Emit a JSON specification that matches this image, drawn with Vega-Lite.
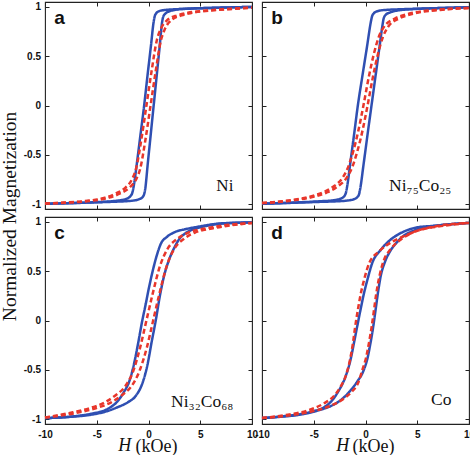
{
"$schema": "https://vega.github.io/schema/vega-lite/v6.json",
"background": "white",
"padding": {"left": 0, "top": 0, "right": 0, "bottom": 0},
"title": {"text": "Normalized Magnetization", "orient": "left", "anchor": "middle", "font": "Liberation Serif", "fontSize": 19.5, "fontWeight": "normal", "color": "#111", "offset": 2, "dx": 12},
"config": {
  "view": {"stroke": "#222", "strokeWidth": 1.1},
  "axis": {"domain": false, "grid": false, "ticks": true, "tickSize": -4, "tickColor": "#222", "tickWidth": 1, "labelFont": "Liberation Sans", "labelFontSize": 10, "labelFontWeight": "bold", "labelColor": "#111", "labelFlush": false, "labelOverlap": false, "labelPadding": 8.5, "titleFont": "Liberation Serif", "titleFontSize": 18, "titleFontWeight": "normal", "titleColor": "#111"}
},
"datasets": {
"labels": [
{"p":"a","letter":"a","name":"Ni","hvar":"H"},
{"p":"b","letter":"b","name":"Ni₇₅Co₂₅","hvar":"H"},
{"p":"c","letter":"c","name":"Ni₃₂Co₆₈","hvar":"H"},
{"p":"d","letter":"d","name":"Co","hvar":"H"}
],
"curves": [
{"p":"a","s":"blue","b":"d","h":10,"m":1.0},{"p":"a","s":"blue","b":"d","h":6,"m":0.99},{"p":"a","s":"blue","b":"d","h":3,"m":0.978},{"p":"a","s":"blue","b":"d","h":2,"m":0.973},{"p":"a","s":"blue","b":"d","h":1.5,"m":0.968},{"p":"a","s":"blue","b":"d","h":1.0,"m":0.956},{"p":"a","s":"blue","b":"d","h":0.75,"m":0.936},{"p":"a","s":"blue","b":"d","h":0.6,"m":0.905},{"p":"a","s":"blue","b":"d","h":0.5,"m":0.85},{"p":"a","s":"blue","b":"d","h":0.23,"m":0.6},{"p":"a","s":"blue","b":"d","h":-0.1,"m":0.3},{"p":"a","s":"blue","b":"d","h":-0.42,"m":0},{"p":"a","s":"blue","b":"d","h":-0.78,"m":-0.3},{"p":"a","s":"blue","b":"d","h":-1.14,"m":-0.6},{"p":"a","s":"blue","b":"d","h":-1.4,"m":-0.8},{"p":"a","s":"blue","b":"d","h":-1.55,"m":-0.88},{"p":"a","s":"blue","b":"d","h":-1.75,"m":-0.92},{"p":"a","s":"blue","b":"d","h":-2.1,"m":-0.945},{"p":"a","s":"blue","b":"d","h":-2.5,"m":-0.958},{"p":"a","s":"blue","b":"d","h":-3,"m":-0.965},{"p":"a","s":"blue","b":"d","h":-6,"m":-0.985},{"p":"a","s":"blue","b":"d","h":-10,"m":-0.997},
{"p":"a","s":"blue","b":"u","h":-10,"m":-0.997},{"p":"a","s":"blue","b":"u","h":-6,"m":-0.985},{"p":"a","s":"blue","b":"u","h":-3,"m":-0.975},{"p":"a","s":"blue","b":"u","h":-2,"m":-0.97},{"p":"a","s":"blue","b":"u","h":-1.5,"m":-0.965},{"p":"a","s":"blue","b":"u","h":-0.9,"m":-0.95},{"p":"a","s":"blue","b":"u","h":-0.6,"m":-0.932},{"p":"a","s":"blue","b":"u","h":-0.42,"m":-0.9},{"p":"a","s":"blue","b":"u","h":-0.32,"m":-0.85},{"p":"a","s":"blue","b":"u","h":-0.08,"m":-0.6},{"p":"a","s":"blue","b":"u","h":0.21,"m":-0.3},{"p":"a","s":"blue","b":"u","h":0.5,"m":0},{"p":"a","s":"blue","b":"u","h":0.79,"m":0.3},{"p":"a","s":"blue","b":"u","h":1.08,"m":0.6},{"p":"a","s":"blue","b":"u","h":1.32,"m":0.85},{"p":"a","s":"blue","b":"u","h":1.42,"m":0.9},{"p":"a","s":"blue","b":"u","h":1.6,"m":0.93},{"p":"a","s":"blue","b":"u","h":2.0,"m":0.955},{"p":"a","s":"blue","b":"u","h":2.5,"m":0.968},{"p":"a","s":"blue","b":"u","h":3,"m":0.978},{"p":"a","s":"blue","b":"u","h":6,"m":0.99},{"p":"a","s":"blue","b":"u","h":10,"m":1.0},
{"p":"a","s":"red","b":"d","h":10,"m":0.993},{"p":"a","s":"red","b":"d","h":7.8,"m":0.98},{"p":"a","s":"red","b":"d","h":5.8,"m":0.965},{"p":"a","s":"red","b":"d","h":3.8,"m":0.94},{"p":"a","s":"red","b":"d","h":2.8,"m":0.915},{"p":"a","s":"red","b":"d","h":1.8,"m":0.865},{"p":"a","s":"red","b":"d","h":1.2,"m":0.78},{"p":"a","s":"red","b":"d","h":0.8,"m":0.66},{"p":"a","s":"red","b":"d","h":0.3,"m":0.35},{"p":"a","s":"red","b":"d","h":-0.2,"m":0},{"p":"a","s":"red","b":"d","h":-0.7,"m":-0.35},{"p":"a","s":"red","b":"d","h":-1.2,"m":-0.64},{"p":"a","s":"red","b":"d","h":-1.6,"m":-0.75},{"p":"a","s":"red","b":"d","h":-2.2,"m":-0.83},{"p":"a","s":"red","b":"d","h":-3.2,"m":-0.895},{"p":"a","s":"red","b":"d","h":-4.2,"m":-0.935},{"p":"a","s":"red","b":"d","h":-6.2,"m":-0.97},{"p":"a","s":"red","b":"d","h":-8.2,"m":-0.985},{"p":"a","s":"red","b":"d","h":-10,"m":-0.995},
{"p":"a","s":"red","b":"u","h":-10,"m":-0.995},{"p":"a","s":"red","b":"u","h":-7.8,"m":-0.985},{"p":"a","s":"red","b":"u","h":-5.8,"m":-0.97},{"p":"a","s":"red","b":"u","h":-3.8,"m":-0.935},{"p":"a","s":"red","b":"u","h":-2.8,"m":-0.895},{"p":"a","s":"red","b":"u","h":-1.8,"m":-0.83},{"p":"a","s":"red","b":"u","h":-1.2,"m":-0.75},{"p":"a","s":"red","b":"u","h":-0.8,"m":-0.64},{"p":"a","s":"red","b":"u","h":-0.3,"m":-0.35},{"p":"a","s":"red","b":"u","h":0.2,"m":0},{"p":"a","s":"red","b":"u","h":0.7,"m":0.35},{"p":"a","s":"red","b":"u","h":1.2,"m":0.66},{"p":"a","s":"red","b":"u","h":1.6,"m":0.78},{"p":"a","s":"red","b":"u","h":2.2,"m":0.865},{"p":"a","s":"red","b":"u","h":3.2,"m":0.915},{"p":"a","s":"red","b":"u","h":4.2,"m":0.94},{"p":"a","s":"red","b":"u","h":6.2,"m":0.965},{"p":"a","s":"red","b":"u","h":8.2,"m":0.98},{"p":"a","s":"red","b":"u","h":10,"m":0.993},

{"p":"b","s":"blue","b":"d","h":10,"m":0.997},{"p":"b","s":"blue","b":"d","h":7,"m":0.988},{"p":"b","s":"blue","b":"d","h":4.5,"m":0.98},{"p":"b","s":"blue","b":"d","h":3,"m":0.975},{"p":"b","s":"blue","b":"d","h":2,"m":0.97},{"p":"b","s":"blue","b":"d","h":1.5,"m":0.965},{"p":"b","s":"blue","b":"d","h":1.1,"m":0.955},{"p":"b","s":"blue","b":"d","h":0.8,"m":0.935},{"p":"b","s":"blue","b":"d","h":0.62,"m":0.9},{"p":"b","s":"blue","b":"d","h":0.52,"m":0.85},{"p":"b","s":"blue","b":"d","h":0.15,"m":0.6},{"p":"b","s":"blue","b":"d","h":-0.3,"m":0.3},{"p":"b","s":"blue","b":"d","h":-0.74,"m":0},{"p":"b","s":"blue","b":"d","h":-1.11,"m":-0.3},{"p":"b","s":"blue","b":"d","h":-1.49,"m":-0.6},{"p":"b","s":"blue","b":"d","h":-1.74,"m":-0.8},{"p":"b","s":"blue","b":"d","h":-1.88,"m":-0.88},{"p":"b","s":"blue","b":"d","h":-2.05,"m":-0.92},{"p":"b","s":"blue","b":"d","h":-2.4,"m":-0.945},{"p":"b","s":"blue","b":"d","h":-3,"m":-0.96},{"p":"b","s":"blue","b":"d","h":-4.5,"m":-0.972},{"p":"b","s":"blue","b":"d","h":-7,"m":-0.985},{"p":"b","s":"blue","b":"d","h":-10,"m":-0.997},
{"p":"b","s":"blue","b":"u","h":-10,"m":-0.997},{"p":"b","s":"blue","b":"u","h":-7,"m":-0.987},{"p":"b","s":"blue","b":"u","h":-4.5,"m":-0.978},{"p":"b","s":"blue","b":"u","h":-3,"m":-0.973},{"p":"b","s":"blue","b":"u","h":-1.8,"m":-0.965},{"p":"b","s":"blue","b":"u","h":-1.1,"m":-0.95},{"p":"b","s":"blue","b":"u","h":-0.8,"m":-0.93},{"p":"b","s":"blue","b":"u","h":-0.62,"m":-0.9},{"p":"b","s":"blue","b":"u","h":-0.52,"m":-0.85},{"p":"b","s":"blue","b":"u","h":-0.19,"m":-0.6},{"p":"b","s":"blue","b":"u","h":0.19,"m":-0.3},{"p":"b","s":"blue","b":"u","h":0.58,"m":0},{"p":"b","s":"blue","b":"u","h":0.97,"m":0.3},{"p":"b","s":"blue","b":"u","h":1.36,"m":0.6},{"p":"b","s":"blue","b":"u","h":1.62,"m":0.8},{"p":"b","s":"blue","b":"u","h":1.75,"m":0.88},{"p":"b","s":"blue","b":"u","h":1.95,"m":0.92},{"p":"b","s":"blue","b":"u","h":2.4,"m":0.945},{"p":"b","s":"blue","b":"u","h":3,"m":0.962},{"p":"b","s":"blue","b":"u","h":4.5,"m":0.977},{"p":"b","s":"blue","b":"u","h":7,"m":0.988},{"p":"b","s":"blue","b":"u","h":10,"m":0.997},
{"p":"b","s":"red","b":"d","h":10,"m":0.99},{"p":"b","s":"red","b":"d","h":6.8,"m":0.97},{"p":"b","s":"red","b":"d","h":4.8,"m":0.945},{"p":"b","s":"red","b":"d","h":3.8,"m":0.92},{"p":"b","s":"red","b":"d","h":2.8,"m":0.88},{"p":"b","s":"red","b":"d","h":1.8,"m":0.8},{"p":"b","s":"red","b":"d","h":1.3,"m":0.7},{"p":"b","s":"red","b":"d","h":0.8,"m":0.52},{"p":"b","s":"red","b":"d","h":0.3,"m":0.28},{"p":"b","s":"red","b":"d","h":-0.2,"m":0},{"p":"b","s":"red","b":"d","h":-0.7,"m":-0.26},{"p":"b","s":"red","b":"d","h":-1.2,"m":-0.47},{"p":"b","s":"red","b":"d","h":-1.7,"m":-0.63},{"p":"b","s":"red","b":"d","h":-2.2,"m":-0.73},{"p":"b","s":"red","b":"d","h":-3.2,"m":-0.83},{"p":"b","s":"red","b":"d","h":-4.2,"m":-0.885},{"p":"b","s":"red","b":"d","h":-5.2,"m":-0.92},{"p":"b","s":"red","b":"d","h":-7.2,"m":-0.96},{"p":"b","s":"red","b":"d","h":-10,"m":-0.99},
{"p":"b","s":"red","b":"u","h":-10,"m":-0.99},{"p":"b","s":"red","b":"u","h":-6.8,"m":-0.96},{"p":"b","s":"red","b":"u","h":-4.8,"m":-0.92},{"p":"b","s":"red","b":"u","h":-3.8,"m":-0.885},{"p":"b","s":"red","b":"u","h":-2.8,"m":-0.83},{"p":"b","s":"red","b":"u","h":-1.8,"m":-0.73},{"p":"b","s":"red","b":"u","h":-1.3,"m":-0.63},{"p":"b","s":"red","b":"u","h":-0.8,"m":-0.47},{"p":"b","s":"red","b":"u","h":-0.3,"m":-0.26},{"p":"b","s":"red","b":"u","h":0.2,"m":0},{"p":"b","s":"red","b":"u","h":0.7,"m":0.28},{"p":"b","s":"red","b":"u","h":1.2,"m":0.52},{"p":"b","s":"red","b":"u","h":1.7,"m":0.7},{"p":"b","s":"red","b":"u","h":2.2,"m":0.8},{"p":"b","s":"red","b":"u","h":3.2,"m":0.88},{"p":"b","s":"red","b":"u","h":4.2,"m":0.92},{"p":"b","s":"red","b":"u","h":5.2,"m":0.945},{"p":"b","s":"red","b":"u","h":7.2,"m":0.97},{"p":"b","s":"red","b":"u","h":10,"m":0.99},

{"p":"c","s":"blue","b":"d","h":10,"m":0.995},{"p":"c","s":"blue","b":"d","h":7,"m":0.985},{"p":"c","s":"blue","b":"d","h":5,"m":0.955},{"p":"c","s":"blue","b":"d","h":4.2,"m":0.94},{"p":"c","s":"blue","b":"d","h":3.5,"m":0.925},{"p":"c","s":"blue","b":"d","h":2.5,"m":0.895},{"p":"c","s":"blue","b":"d","h":1.8,"m":0.85},{"p":"c","s":"blue","b":"d","h":1.2,"m":0.78},{"p":"c","s":"blue","b":"d","h":0.8,"m":0.66},{"p":"c","s":"blue","b":"d","h":0.4,"m":0.5},{"p":"c","s":"blue","b":"d","h":0,"m":0.31},{"p":"c","s":"blue","b":"d","h":-0.3,"m":0.15},{"p":"c","s":"blue","b":"d","h":-0.6,"m":0},{"p":"c","s":"blue","b":"d","h":-1.0,"m":-0.23},{"p":"c","s":"blue","b":"d","h":-1.4,"m":-0.44},{"p":"c","s":"blue","b":"d","h":-1.8,"m":-0.6},{"p":"c","s":"blue","b":"d","h":-2.4,"m":-0.73},{"p":"c","s":"blue","b":"d","h":-3,"m":-0.82},{"p":"c","s":"blue","b":"d","h":-4,"m":-0.9},{"p":"c","s":"blue","b":"d","h":-5.5,"m":-0.945},{"p":"c","s":"blue","b":"d","h":-7.5,"m":-0.975},{"p":"c","s":"blue","b":"d","h":-10,"m":-0.99},
{"p":"c","s":"blue","b":"u","h":-10,"m":-0.99},{"p":"c","s":"blue","b":"u","h":-7.5,"m":-0.977},{"p":"c","s":"blue","b":"u","h":-5.5,"m":-0.955},{"p":"c","s":"blue","b":"u","h":-4,"m":-0.92},{"p":"c","s":"blue","b":"u","h":-3,"m":-0.88},{"p":"c","s":"blue","b":"u","h":-2,"m":-0.83},{"p":"c","s":"blue","b":"u","h":-1.2,"m":-0.76},{"p":"c","s":"blue","b":"u","h":-0.6,"m":-0.64},{"p":"c","s":"blue","b":"u","h":-0.1,"m":-0.45},{"p":"c","s":"blue","b":"u","h":0.3,"m":-0.22},{"p":"c","s":"blue","b":"u","h":0.7,"m":0},{"p":"c","s":"blue","b":"u","h":1.1,"m":0.25},{"p":"c","s":"blue","b":"u","h":1.5,"m":0.45},{"p":"c","s":"blue","b":"u","h":2,"m":0.62},{"p":"c","s":"blue","b":"u","h":2.5,"m":0.74},{"p":"c","s":"blue","b":"u","h":3,"m":0.83},{"p":"c","s":"blue","b":"u","h":3.5,"m":0.88},{"p":"c","s":"blue","b":"u","h":4.2,"m":0.92},{"p":"c","s":"blue","b":"u","h":5,"m":0.945},{"p":"c","s":"blue","b":"u","h":7,"m":0.982},{"p":"c","s":"blue","b":"u","h":10,"m":0.995},
{"p":"c","s":"red","b":"d","h":10,"m":0.99},{"p":"c","s":"red","b":"d","h":7.3,"m":0.965},{"p":"c","s":"red","b":"d","h":5.3,"m":0.93},{"p":"c","s":"red","b":"d","h":3.8,"m":0.89},{"p":"c","s":"red","b":"d","h":2.8,"m":0.83},{"p":"c","s":"red","b":"d","h":1.8,"m":0.72},{"p":"c","s":"red","b":"d","h":1.1,"m":0.55},{"p":"c","s":"red","b":"d","h":0.4,"m":0.27},{"p":"c","s":"red","b":"d","h":-0.2,"m":0},{"p":"c","s":"red","b":"d","h":-0.8,"m":-0.27},{"p":"c","s":"red","b":"d","h":-1.5,"m":-0.52},{"p":"c","s":"red","b":"d","h":-2.2,"m":-0.66},{"p":"c","s":"red","b":"d","h":-3.2,"m":-0.76},{"p":"c","s":"red","b":"d","h":-4.2,"m":-0.83},{"p":"c","s":"red","b":"d","h":-5.7,"m":-0.89},{"p":"c","s":"red","b":"d","h":-7.7,"m":-0.94},{"p":"c","s":"red","b":"d","h":-10,"m":-0.985},
{"p":"c","s":"red","b":"u","h":-10,"m":-0.985},{"p":"c","s":"red","b":"u","h":-7.1,"m":-0.94},{"p":"c","s":"red","b":"u","h":-5.1,"m":-0.89},{"p":"c","s":"red","b":"u","h":-3.6,"m":-0.83},{"p":"c","s":"red","b":"u","h":-2.6,"m":-0.76},{"p":"c","s":"red","b":"u","h":-1.6,"m":-0.66},{"p":"c","s":"red","b":"u","h":-0.9,"m":-0.52},{"p":"c","s":"red","b":"u","h":-0.15,"m":-0.27},{"p":"c","s":"red","b":"u","h":0.45,"m":0},{"p":"c","s":"red","b":"u","h":1.05,"m":0.27},{"p":"c","s":"red","b":"u","h":1.75,"m":0.55},{"p":"c","s":"red","b":"u","h":2.45,"m":0.72},{"p":"c","s":"red","b":"u","h":3.45,"m":0.83},{"p":"c","s":"red","b":"u","h":4.45,"m":0.89},{"p":"c","s":"red","b":"u","h":5.95,"m":0.93},{"p":"c","s":"red","b":"u","h":7.95,"m":0.965},{"p":"c","s":"red","b":"u","h":10,"m":0.99},

{"p":"d","s":"blue","b":"d","h":10,"m":0.99},{"p":"d","s":"blue","b":"d","h":8,"m":0.975},{"p":"d","s":"blue","b":"d","h":6.5,"m":0.96},{"p":"d","s":"blue","b":"d","h":5,"m":0.945},{"p":"d","s":"blue","b":"d","h":4,"m":0.915},{"p":"d","s":"blue","b":"d","h":3.2,"m":0.875},{"p":"d","s":"blue","b":"d","h":2.42,"m":0.82},{"p":"d","s":"blue","b":"d","h":1.5,"m":0.72},{"p":"d","s":"blue","b":"d","h":0.64,"m":0.58},{"p":"d","s":"blue","b":"d","h":0.2,"m":0.42},{"p":"d","s":"blue","b":"d","h":-0.16,"m":0.27},{"p":"d","s":"blue","b":"d","h":-0.5,"m":0.1},{"p":"d","s":"blue","b":"d","h":-0.81,"m":-0.064},{"p":"d","s":"blue","b":"d","h":-1.1,"m":-0.22},{"p":"d","s":"blue","b":"d","h":-1.45,"m":-0.4},{"p":"d","s":"blue","b":"d","h":-1.9,"m":-0.56},{"p":"d","s":"blue","b":"d","h":-2.75,"m":-0.74},{"p":"d","s":"blue","b":"d","h":-3.3,"m":-0.82},{"p":"d","s":"blue","b":"d","h":-4,"m":-0.88},{"p":"d","s":"blue","b":"d","h":-5,"m":-0.92},{"p":"d","s":"blue","b":"d","h":-6.3,"m":-0.95},{"p":"d","s":"blue","b":"d","h":-8,"m":-0.972},{"p":"d","s":"blue","b":"d","h":-10,"m":-0.99},
{"p":"d","s":"blue","b":"u","h":-10,"m":-0.99},{"p":"d","s":"blue","b":"u","h":-8,"m":-0.975},{"p":"d","s":"blue","b":"u","h":-6.3,"m":-0.955},{"p":"d","s":"blue","b":"u","h":-4.5,"m":-0.91},{"p":"d","s":"blue","b":"u","h":-3.4,"m":-0.87},{"p":"d","s":"blue","b":"u","h":-2.3,"m":-0.8},{"p":"d","s":"blue","b":"u","h":-1.45,"m":-0.71},{"p":"d","s":"blue","b":"u","h":-0.8,"m":-0.62},{"p":"d","s":"blue","b":"u","h":-0.16,"m":-0.5},{"p":"d","s":"blue","b":"u","h":0.2,"m":-0.38},{"p":"d","s":"blue","b":"u","h":0.48,"m":-0.23},{"p":"d","s":"blue","b":"u","h":0.75,"m":-0.06},{"p":"d","s":"blue","b":"u","h":0.97,"m":0.105},{"p":"d","s":"blue","b":"u","h":1.2,"m":0.28},{"p":"d","s":"blue","b":"u","h":1.45,"m":0.44},{"p":"d","s":"blue","b":"u","h":1.9,"m":0.6},{"p":"d","s":"blue","b":"u","h":2.42,"m":0.71},{"p":"d","s":"blue","b":"u","h":3,"m":0.79},{"p":"d","s":"blue","b":"u","h":3.7,"m":0.86},{"p":"d","s":"blue","b":"u","h":4.5,"m":0.905},{"p":"d","s":"blue","b":"u","h":5.5,"m":0.94},{"p":"d","s":"blue","b":"u","h":6.5,"m":0.957},{"p":"d","s":"blue","b":"u","h":8,"m":0.975},{"p":"d","s":"blue","b":"u","h":10,"m":0.99},
{"p":"d","s":"red","b":"d","h":10,"m":0.99},{"p":"d","s":"red","b":"d","h":7.5,"m":0.96},{"p":"d","s":"red","b":"d","h":5.3,"m":0.92},{"p":"d","s":"red","b":"d","h":3.8,"m":0.86},{"p":"d","s":"red","b":"d","h":2.6,"m":0.8},{"p":"d","s":"red","b":"d","h":1.3,"m":0.7},{"p":"d","s":"red","b":"d","h":0.35,"m":0.58},{"p":"d","s":"red","b":"d","h":-0.12,"m":0.42},{"p":"d","s":"red","b":"d","h":-0.46,"m":0.27},{"p":"d","s":"red","b":"d","h":-0.75,"m":0.1},{"p":"d","s":"red","b":"d","h":-1.0,"m":-0.064},{"p":"d","s":"red","b":"d","h":-1.2,"m":-0.22},{"p":"d","s":"red","b":"d","h":-1.5,"m":-0.4},{"p":"d","s":"red","b":"d","h":-1.9,"m":-0.56},{"p":"d","s":"red","b":"d","h":-2.4,"m":-0.67},{"p":"d","s":"red","b":"d","h":-3.0,"m":-0.76},{"p":"d","s":"red","b":"d","h":-4.0,"m":-0.84},{"p":"d","s":"red","b":"d","h":-5.5,"m":-0.91},{"p":"d","s":"red","b":"d","h":-7.5,"m":-0.955},{"p":"d","s":"red","b":"d","h":-10,"m":-0.99},
{"p":"d","s":"red","b":"u","h":-10,"m":-0.99},{"p":"d","s":"red","b":"u","h":-7.5,"m":-0.965},{"p":"d","s":"red","b":"u","h":-5.5,"m":-0.93},{"p":"d","s":"red","b":"u","h":-3.5,"m":-0.87},{"p":"d","s":"red","b":"u","h":-2.2,"m":-0.8},{"p":"d","s":"red","b":"u","h":-1.3,"m":-0.72},{"p":"d","s":"red","b":"u","h":-0.7,"m":-0.63},{"p":"d","s":"red","b":"u","h":-0.3,"m":-0.5},{"p":"d","s":"red","b":"u","h":0.05,"m":-0.38},{"p":"d","s":"red","b":"u","h":0.33,"m":-0.23},{"p":"d","s":"red","b":"u","h":0.6,"m":-0.06},{"p":"d","s":"red","b":"u","h":0.82,"m":0.105},{"p":"d","s":"red","b":"u","h":1.05,"m":0.28},{"p":"d","s":"red","b":"u","h":1.35,"m":0.45},{"p":"d","s":"red","b":"u","h":1.77,"m":0.61},{"p":"d","s":"red","b":"u","h":2.4,"m":0.72},{"p":"d","s":"red","b":"u","h":3.39,"m":0.82},{"p":"d","s":"red","b":"u","h":4.5,"m":0.89},{"p":"d","s":"red","b":"u","h":6.5,"m":0.95},{"p":"d","s":"red","b":"u","h":10,"m":0.99}
]
},
"columns": 2,
"spacing": {"row": 8, "column": 10},
"bounds": "flush",
"concat": [
{
 "width": 207, "height": 207,
 "layer": [
  {"data": {"name": "curves"}, "transform": [{"filter": "datum.p === 'a'"}],
   "mark": {"type": "line", "interpolate": "monotone", "strokeWidth": 2.5},
   "encoding": {
    "x": {"field": "h", "type": "quantitative", "scale": {"domain": [-10, 10], "nice": false, "zero": false}, "axis": {"orient": "bottom", "values": [-10, -5, 0, 5, 10], "labels": false, "title": null}},
    "y": {"field": "m", "type": "quantitative", "scale": {"domain": [-1.05, 1.05], "nice": false, "zero": false}, "axis": {"orient": "left", "values": [-1, -0.5, 0, 0.5, 1], "labelExpr": "'' + datum.value", "title": null}},
    "color": {"field": "s", "type": "nominal", "scale": {"domain": ["blue", "red"], "range": ["#2f4fb2", "#e8362b"]}, "legend": null},
    "strokeDash": {"field": "s", "type": "nominal", "scale": {"domain": ["blue", "red"], "range": [[1, 0], [5, 3]]}, "legend": null},
    "detail": {"field": "b", "type": "nominal"}
   }},
  {"data": {"name": "labels"}, "transform": [{"filter": "datum.p === 'a'"}],
   "mark": {"type": "text", "align": "left", "baseline": "alphabetic", "font": "Liberation Sans", "fontWeight": "bold", "fontSize": 19, "color": "#111"},
   "encoding": {
    "x": {"datum": -9.1, "type": "quantitative", "scale": {"domain": [-10, 10], "nice": false, "zero": false}, "axis": {"orient": "top", "values": [-10, -5, 0, 5, 10], "labels": false, "title": null}},
    "y": {"datum": 0.827, "type": "quantitative", "scale": {"domain": [-1.05, 1.05], "nice": false, "zero": false}, "axis": {"orient": "right", "values": [-1, -0.5, 0, 0.5, 1], "labels": false, "title": null}},
    "text": {"field": "letter"}
   }},
  {"data": {"name": "labels"}, "transform": [{"filter": "datum.p === 'a'"}],
   "mark": {"type": "text", "align": "right", "baseline": "alphabetic", "font": "Liberation Serif", "fontSize": 17, "color": "#111"},
   "encoding": {
    "x": {"datum": 8.2, "type": "quantitative", "axis": null},
    "y": {"datum": -0.87, "type": "quantitative", "axis": null},
    "text": {"field": "name"}
   }}
 ],
 "resolve": {"axis": {"x": "independent", "y": "independent"}}
},
{
 "width": 207, "height": 207,
 "layer": [
  {"data": {"name": "curves"}, "transform": [{"filter": "datum.p === 'b'"}],
   "mark": {"type": "line", "interpolate": "monotone", "strokeWidth": 2.5},
   "encoding": {
    "x": {"field": "h", "type": "quantitative", "scale": {"domain": [-10, 10], "nice": false, "zero": false}, "axis": {"orient": "bottom", "values": [-10, -5, 0, 5, 10], "labels": false, "title": null}},
    "y": {"field": "m", "type": "quantitative", "scale": {"domain": [-1.05, 1.05], "nice": false, "zero": false}, "axis": {"orient": "left", "values": [-1, -0.5, 0, 0.5, 1], "labels": false, "title": null}},
    "color": {"field": "s", "type": "nominal", "scale": {"domain": ["blue", "red"], "range": ["#2f4fb2", "#e8362b"]}, "legend": null},
    "strokeDash": {"field": "s", "type": "nominal", "scale": {"domain": ["blue", "red"], "range": [[1, 0], [5, 3]]}, "legend": null},
    "detail": {"field": "b", "type": "nominal"}
   }},
  {"data": {"name": "labels"}, "transform": [{"filter": "datum.p === 'b'"}],
   "mark": {"type": "text", "align": "left", "baseline": "alphabetic", "font": "Liberation Sans", "fontWeight": "bold", "fontSize": 19, "color": "#111"},
   "encoding": {
    "x": {"datum": -9.1, "type": "quantitative", "scale": {"domain": [-10, 10], "nice": false, "zero": false}, "axis": {"orient": "top", "values": [-10, -5, 0, 5, 10], "labels": false, "title": null}},
    "y": {"datum": 0.827, "type": "quantitative", "scale": {"domain": [-1.05, 1.05], "nice": false, "zero": false}, "axis": {"orient": "right", "values": [-1, -0.5, 0, 0.5, 1], "labels": false, "title": null}},
    "text": {"field": "letter"}
   }},
  {"data": {"name": "labels"}, "transform": [{"filter": "datum.p === 'b'"}],
   "mark": {"type": "text", "align": "right", "baseline": "alphabetic", "font": "Liberation Serif", "fontSize": 17.5, "color": "#111"},
   "encoding": {
    "x": {"datum": 8.3, "type": "quantitative", "axis": null},
    "y": {"datum": -0.87, "type": "quantitative", "axis": null},
    "text": {"field": "name"}
   }}
 ],
 "resolve": {"axis": {"x": "independent", "y": "independent"}}
},
{
 "width": 207, "height": 207,
 "layer": [
  {"data": {"name": "curves"}, "transform": [{"filter": "datum.p === 'c'"}],
   "mark": {"type": "line", "interpolate": "monotone", "strokeWidth": 2.5},
   "encoding": {
    "x": {"field": "h", "type": "quantitative", "scale": {"domain": [-10, 10], "nice": false, "zero": false}, "axis": {"orient": "bottom", "values": [-10, -5, 0, 5, 10], "labelExpr": "'' + datum.value", "labelPadding": 9.2, "title": "(kOe)", "titleX": 111, "titleY": 27.3, "titleBaseline": "alphabetic", "titleAlign": "center"}},
    "y": {"field": "m", "type": "quantitative", "scale": {"domain": [-1.05, 1.05], "nice": false, "zero": false}, "axis": {"orient": "left", "values": [-1, -0.5, 0, 0.5, 1], "labelExpr": "'' + datum.value", "title": null}},
    "color": {"field": "s", "type": "nominal", "scale": {"domain": ["blue", "red"], "range": ["#2f4fb2", "#e8362b"]}, "legend": null},
    "strokeDash": {"field": "s", "type": "nominal", "scale": {"domain": ["blue", "red"], "range": [[1, 0], [5, 3]]}, "legend": null},
    "detail": {"field": "b", "type": "nominal"}
   }},
  {"data": {"name": "labels"}, "transform": [{"filter": "datum.p === 'c'"}],
   "mark": {"type": "text", "align": "left", "baseline": "alphabetic", "font": "Liberation Sans", "fontWeight": "bold", "fontSize": 19, "color": "#111"},
   "encoding": {
    "x": {"datum": -9.1, "type": "quantitative", "scale": {"domain": [-10, 10], "nice": false, "zero": false}, "axis": {"orient": "top", "values": [-10, -5, 0, 5, 10], "labels": false, "title": null}},
    "y": {"datum": 0.827, "type": "quantitative", "scale": {"domain": [-1.05, 1.05], "nice": false, "zero": false}, "axis": {"orient": "right", "values": [-1, -0.5, 0, 0.5, 1], "labels": false, "title": null}},
    "text": {"field": "letter"}
   }},
  {"data": {"name": "labels"}, "transform": [{"filter": "datum.p === 'c'"}],
   "mark": {"type": "text", "align": "right", "baseline": "alphabetic", "font": "Liberation Serif", "fontSize": 17.5, "color": "#111"},
   "encoding": {
    "x": {"datum": 8.2, "type": "quantitative", "axis": null},
    "y": {"datum": -0.878, "type": "quantitative", "axis": null},
    "text": {"field": "name"}
   }},
  {"data": {"name": "labels"}, "transform": [{"filter": "datum.p === 'c'"}],
   "mark": {"type": "text", "align": "center", "baseline": "alphabetic", "font": "Liberation Serif", "fontStyle": "italic", "fontSize": 18, "color": "#111"},
   "encoding": {
    "x": {"datum": -2.3, "type": "quantitative", "axis": null},
    "y": {"datum": -1.327, "type": "quantitative", "axis": null},
    "text": {"field": "hvar"}
   }}
 ],
 "resolve": {"axis": {"x": "independent", "y": "independent"}}
},
{
 "width": 207, "height": 207,
 "layer": [
  {"data": {"name": "curves"}, "transform": [{"filter": "datum.p === 'd'"}],
   "mark": {"type": "line", "interpolate": "monotone", "strokeWidth": 2.5},
   "encoding": {
    "x": {"field": "h", "type": "quantitative", "scale": {"domain": [-10, 10], "nice": false, "zero": false}, "axis": {"orient": "bottom", "values": [-10, -5, 0, 5, 10], "labelExpr": "'' + datum.value", "labelPadding": 9.2, "title": "(kOe)", "titleX": 111, "titleY": 27.3, "titleBaseline": "alphabetic", "titleAlign": "center"}},
    "y": {"field": "m", "type": "quantitative", "scale": {"domain": [-1.05, 1.05], "nice": false, "zero": false}, "axis": {"orient": "left", "values": [-1, -0.5, 0, 0.5, 1], "labels": false, "title": null}},
    "color": {"field": "s", "type": "nominal", "scale": {"domain": ["blue", "red"], "range": ["#2f4fb2", "#e8362b"]}, "legend": null},
    "strokeDash": {"field": "s", "type": "nominal", "scale": {"domain": ["blue", "red"], "range": [[1, 0], [5, 3]]}, "legend": null},
    "detail": {"field": "b", "type": "nominal"}
   }},
  {"data": {"name": "labels"}, "transform": [{"filter": "datum.p === 'd'"}],
   "mark": {"type": "text", "align": "left", "baseline": "alphabetic", "font": "Liberation Sans", "fontWeight": "bold", "fontSize": 19, "color": "#111"},
   "encoding": {
    "x": {"datum": -9.1, "type": "quantitative", "scale": {"domain": [-10, 10], "nice": false, "zero": false}, "axis": {"orient": "top", "values": [-10, -5, 0, 5, 10], "labels": false, "title": null}},
    "y": {"datum": 0.827, "type": "quantitative", "scale": {"domain": [-1.05, 1.05], "nice": false, "zero": false}, "axis": {"orient": "right", "values": [-1, -0.5, 0, 0.5, 1], "labels": false, "title": null}},
    "text": {"field": "letter"}
   }},
  {"data": {"name": "labels"}, "transform": [{"filter": "datum.p === 'd'"}],
   "mark": {"type": "text", "align": "right", "baseline": "alphabetic", "font": "Liberation Serif", "fontSize": 17.5, "color": "#111"},
   "encoding": {
    "x": {"datum": 8.3, "type": "quantitative", "axis": null},
    "y": {"datum": -0.86, "type": "quantitative", "axis": null},
    "text": {"field": "name"}
   }},
  {"data": {"name": "labels"}, "transform": [{"filter": "datum.p === 'd'"}],
   "mark": {"type": "text", "align": "center", "baseline": "alphabetic", "font": "Liberation Serif", "fontStyle": "italic", "fontSize": 18, "color": "#111"},
   "encoding": {
    "x": {"datum": -2.2, "type": "quantitative", "axis": null},
    "y": {"datum": -1.327, "type": "quantitative", "axis": null},
    "text": {"field": "hvar"}
   }}
 ],
 "resolve": {"axis": {"x": "independent", "y": "independent"}}
}
]
}
